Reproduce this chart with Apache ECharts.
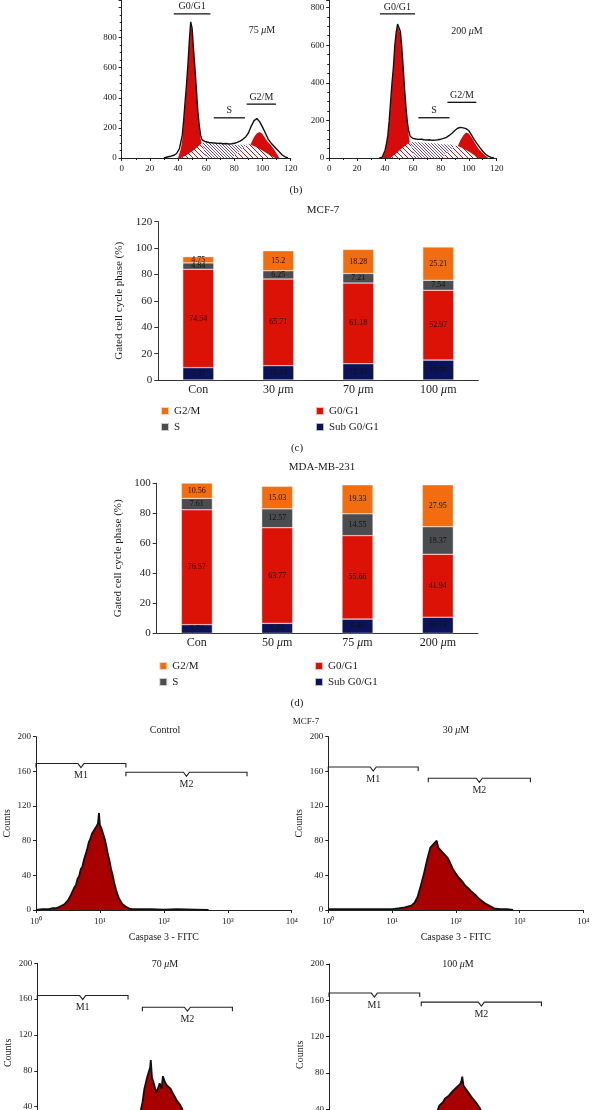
<!DOCTYPE html>
<html><head><meta charset="utf-8">
<script src="https://cdn.jsdelivr.net/npm/echarts@6/dist/echarts.min.js"></script>
<style>html,body{margin:0;padding:0;background:#fff}#c{width:592px;height:1110px}</style>
</head><body><div id="c"></div>
<script>
// ---------- DATA ----------
// (b) DNA content histograms: [channel, count]
const b75Outline = [[30,0],[33,8],[35,12],[37,18],[39,30],[41,62],[43,150],[44,250],[45,372],[46,485],[47,618],[48,775],[49,905],[50,862],[51,722],[52,598],[53,462],[54,318],[55,222],[56,152],[57,122],[58,112],[59,110],[60,106],[62,103],[64,101],[66,100],[68,97],[70,98],[72,95],[74,96],[76,93],[78,95],[80,98],[82,104],[84,112],[86,124],[88,140],[90,166],[92,212],[94,248],[95,258],[96,262],[97,256],[98,240],[100,205],[102,166],[104,126],[106,100],[108,80],[110,60],[112,40],[114,20],[116,8],[118,0]];
const b75G1 = [[40,0],[42,60],[43,120],[44,230],[45,350],[46,470],[47,610],[48,770],[49,895],[50,850],[51,710],[52,585],[53,445],[54,300],[55,200],[56,130],[57,90],[58,40],[59,0]];
const b75G2 = [[86,0],[88,30],[90,60],[92,100],[94,140],[96,165],[98,172],[100,160],[102,130],[104,105],[106,85],[108,60],[110,30],[112,0]];
const b75S = [[57,100],[60,100],[65,98],[70,95],[75,92],[80,88],[85,88],[88,90],[91,85],[92,0]];
const b75HatchL = [[42,0],[46,20],[50,45],[54,75],[57,100],[60,0]];
const b75HatchR = [[78,0],[82,30],[86,65],[90,95],[95,75],[100,50],[105,20],[109,0]];
const b75Markers = [[37,63,958,'G0/G1'],[65.4,87.5,267,'S'],[88.7,109.6,358,'G2/M']];

const b200Outline = [[36,0],[38,5],[40,40],[41,75],[42,120],[43,200],[44,300],[45,400],[46,482],[47,598],[48,668],[49,712],[50,720],[51,672],[52,590],[53,482],[54,368],[55,270],[56,190],[57,142],[58,116],[59,108],[60,104],[62,101],[64,99],[66,100],[68,97],[70,96],[72,97],[74,94],[76,95],[78,97],[80,100],[82,104],[84,110],[86,120],[88,132],[90,146],[92,158],[93,166],[94,163],[95,168],[96,160],[97,163],[98,156],[100,146],[102,122],[104,96],[106,75],[108,55],[110,36],[112,20],[114,10],[116,3],[118,0]];
const b200G1 = [[38,0],[40,35],[42,110],[43,190],[44,290],[45,390],[46,470],[47,590],[48,660],[49,705],[50,712],[51,660],[52,580],[53,470],[54,360],[55,260],[56,180],[57,120],[58,70],[59,30],[60,0]];
const b200G2 = [[88,0],[90,30],[92,60],[94,95],[96,120],[98,135],[100,130],[102,110],[104,85],[106,60],[108,40],[110,25],[112,12],[114,0]];
const b200S = [[58,85],[62,85],[66,83],[70,80],[75,78],[80,75],[85,72],[89,70],[90,0]];
const b200HatchL = [[44,0],[48,25],[52,50],[56,75],[58,85],[61,0]];
const b200HatchR = [[80,0],[84,25],[88,50],[91,68],[95,55],[100,35],[104,15],[106,0]];
const b200Markers = [[36.3,61.5,766,'G0/G1'],[63.9,86.2,214,'S'],[84.7,105.4,296,'G2/M']];

// (c) MCF-7 cell cycle (%)
const mcfCats = ['Con','30 μm','70 μm','100 μm'];
const mcfSub  = [9.37,10.84,12.33,15.08];
const mcfG0G1 = [74.54,65.71,61.18,52.97];
const mcfS    = [4.84,6.25,7.21,7.54];
const mcfG2M  = [4.75,15.2,18.28,25.21];
// (d) MDA-MB-231 cell cycle (%)
const mdaCats = ['Con','50 μm','75 μm','200 μm'];
const mdaSub  = [5.76,6.63,9.46,10.74];
const mdaG0G1 = [76.57,63.77,55.66,41.94];
const mdaS    = [7.61,12.57,14.55,18.37];
const mdaG2M  = [10.56,15.03,19.33,27.95];

// (e) Caspase 3 - FITC histograms: log10 intensity and counts
const ctrlLog = [0.0,0.1,0.2,0.25,0.3,0.35,0.4,0.45,0.5,0.525,0.55,0.575,0.6,0.625,0.65,0.675,0.7,0.725,0.75,0.775,0.8,0.825,0.85,0.875,0.9,0.925,0.95,0.97,0.985,1.0,1.02,1.05,1.075,1.1,1.125,1.15,1.175,1.2,1.225,1.25,1.275,1.3,1.325,1.35,1.4,1.45,1.5,1.6,1.8,2.0,2.2,2.5,2.7];
const ctrlCount = [0,1,1,2,2,3,5,7,11,13,18,20,26,29,36,39,47,50,58,64,70,78,82,88,90,94,97,100,112,98,95,88,82,74,64,57,47,40,31,24,18,13,10,7,4,2,1,1,1,0.5,1,0.5,0];
const m30Log = [0,0.2,0.4,0.6,0.8,1.0,1.1,1.2,1.3,1.35,1.4,1.45,1.5,1.525,1.55,1.575,1.6,1.625,1.65,1.675,1.7,1.725,1.75,1.775,1.8,1.825,1.85,1.875,1.9,1.925,1.95,1.975,2.0,2.05,2.1,2.15,2.2,2.25,2.3,2.35,2.4,2.45,2.5,2.55,2.6,2.7,2.8,2.9];
const m30Count = [1,1,1,1,1,1,2,3,5,8,15,28,42,50,58,65,72,70,76,74,80,72,74,68,70,64,66,60,56,52,48,46,42,37,33,28,25,21,18,14,11,8,6,4,2,1,1,0];
const m70Log = [0,0.5,1.0,1.3,1.45,1.55,1.6,1.65,1.68,1.7,1.72,1.75,1.77,1.78,1.8,1.82,1.85,1.87,1.9,1.92,1.95,1.97,2.0,2.03,2.06,2.09,2.12,2.15,2.18,2.21,2.24,2.27,2.3,2.35,2.4,2.5,2.6,2.7,2.8,3.0];
const m70Count = [1,1,1,2,5,15,28,45,60,66,72,70,84,92,72,68,60,56,62,66,60,74,68,64,66,60,56,52,48,45,42,38,32,26,20,12,6,3,1,0];
const m100Log = [0,0.5,1.0,1.3,1.5,1.6,1.65,1.7,1.73,1.76,1.79,1.82,1.85,1.88,1.91,1.94,1.97,2.0,2.03,2.06,2.08,2.09,2.11,2.14,2.17,2.2,2.23,2.26,2.3,2.33,2.36,2.4,2.45,2.5,2.6,2.7,2.8,3.0,3.2];
const m100Count = [1,1,1,2,6,15,25,38,44,46,48,52,50,55,57,60,58,64,62,68,72,76,66,64,60,58,54,52,48,45,42,36,28,20,10,5,2,1,0];
const flowTicks = ['10⁰','10¹','10²','10³','10⁴'];
// gates: [start, end, height, label]
const ctrlGates = [[1,25.5,169,'M1'],[25.5,2000,159,'M2']];
const m30Gates  = [[1,25.7,165,'M1'],[37,1480,152,'M2']];
const m70Gates  = [[1,26.5,164,'M1'],[44.5,1150,151,'M2']];
const m100Gates = [[1,26.5,168,'M1'],[28,2150,158,'M2']];

// ---------- STYLE ----------
const FONT = 'Liberation Serif';
const INK = '#1a1a1a';
const C_G2M = '#f26d10', C_S = '#4b4c4f', C_G1 = '#dc1206', C_SUB = '#0b145a';
const FLOW_RED = '#a80000';

function hatch(colors, size) {
  const c = document.createElement('canvas');
  c.width = size; c.height = size;
  const g = c.getContext('2d');
  g.fillStyle = '#fff'; g.fillRect(0, 0, size, size);
  g.lineWidth = 1;
  colors.forEach((col, k) => {
    const off = k * size / colors.length;
    g.strokeStyle = col;
    g.beginPath();
    for (let d = -size; d <= size; d += size) {
      g.moveTo(off + d - 1, -1); g.lineTo(off + d + size + 1, size + 1);
    }
    g.stroke();
  });
  return c;
}
const redHatch = { image: hatch(['#d01010'], 5), repeat: 'repeat' };
const blueHatch = { image: hatch(['#3c4aa0', '#c05070'], 6), repeat: 'repeat' };

function richText(size) {
  return { i: { fontStyle: 'italic', fontFamily: FONT, fontSize: size, color: INK, fill: INK } };
}
const muFmt = v => String(v).replace('μ', '{i|μ}');

const grids = [
  { left: 121.7, top: 0, width: 169, height: 158 },
  { left: 329.2, top: 0, width: 167.5, height: 158 },
  { left: 158.3, top: 221.7, width: 320, height: 158.3 },
  { left: 156.7, top: 483.3, width: 321.3, height: 150 },
  { left: 36, top: 736.7, width: 255.7, height: 173.3 },
  { left: 328.3, top: 736.7, width: 255, height: 173.3 },
  { left: 37.3, top: 963.3, width: 255, height: 179.2 },
  { left: 329, top: 964, width: 255, height: 181.6 }
].map(g => Object.assign({ containLabel: false, outerBoundsMode: 'none' }, g));

const axLine = { show: true, lineStyle: { color: '#222', width: 1 } };
const topX = gi => ({ gridIndex: gi, type: 'value', min: 0, max: 120, interval: 20,
  axisLine: axLine, axisTick: { show: true, length: 3, lineStyle: { color: '#222' } },
  minorTick: { show: true, splitNumber: 2, length: 2, lineStyle: { color: '#222' } },
  splitLine: { show: false }, axisLabel: { fontFamily: FONT, fontSize: 9, color: INK, margin: 6 } });
const topY = (gi, max) => ({ gridIndex: gi, type: 'value', min: 0, max: max, interval: 200,
  axisLine: axLine, axisTick: { show: true, length: 3, lineStyle: { color: '#222' } },
  minorTick: { show: true, splitNumber: 4, length: 2, lineStyle: { color: '#222' } },
  splitLine: { show: false },
  axisLabel: { fontFamily: FONT, fontSize: 9, color: INK, margin: 5, showMaxLabel: false,
    formatter: v => (v > 800 ? '' : String(v)) } });
const barX = (gi, cats) => ({ gridIndex: gi, type: 'category', data: cats,
  axisLine: { show: true, lineStyle: { color: '#333', width: 1 } }, axisTick: { show: false },
  axisLabel: { fontFamily: FONT, fontSize: 12, color: INK, margin: 4, formatter: muFmt, rich: richText(12) } });
const barY = (gi, max) => ({ gridIndex: gi, type: 'value', min: 0, max: max, interval: 20,
  name: 'Gated cell cycle phase (%)', nameLocation: 'middle', nameGap: 27, nameRotate: 90,
  nameTextStyle: { fontFamily: FONT, fontSize: 11, color: INK },
  axisLine: { show: true, lineStyle: { color: '#333', width: 1 } },
  axisTick: { show: true, length: 4, lineStyle: { color: '#333' } }, splitLine: { show: false },
  axisLabel: { fontFamily: FONT, fontSize: 11, color: INK, margin: 6 } });
const flowX = gi => ({ gridIndex: gi, type: 'log', logBase: 10, min: 1, max: 10000,
  name: 'Caspase 3 - FITC', nameLocation: 'middle', nameGap: 22,
  nameTextStyle: { fontFamily: FONT, fontSize: 10, color: INK },
  axisLine: axLine, axisTick: { show: true, length: 3, lineStyle: { color: '#222' } },
  minorTick: { show: false }, splitLine: { show: false }, minorSplitLine: { show: false },
  axisLabel: { fontFamily: FONT, fontSize: 9, color: INK, margin: 7,
    formatter: v => flowTicks[Math.round(Math.log10(v))] } });
const flowY = gi => ({ gridIndex: gi, type: 'value', min: 0, max: 200, interval: 40,
  name: 'Counts', nameLocation: 'middle', nameGap: 24, nameRotate: 90,
  nameTextStyle: { fontFamily: FONT, fontSize: 10, color: INK },
  axisLine: axLine, axisTick: { show: true, length: 3, lineStyle: { color: '#222' } },
  splitLine: { show: false }, axisLabel: { fontFamily: FONT, fontSize: 9, color: INK, margin: 5 } });

const series = [];
function area(name, data, gi, fill, z) {
  series.push({ type: 'line', name: name, data: data, xAxisIndex: gi, yAxisIndex: gi,
    symbol: 'none', showSymbol: false, silent: true, z: z,
    lineStyle: { width: 0, opacity: 0 }, areaStyle: { color: fill, opacity: 1 } });
}
function outline(name, data, gi, z, w) {
  series.push({ type: 'line', name: name, data: data, xAxisIndex: gi, yAxisIndex: gi,
    symbol: 'none', showSymbol: false, silent: true, z: z,
    lineStyle: { color: '#111', width: w } });
}
function phaseMarkers(name, markers, gi) {
  series.push({ type: 'custom', name: name, xAxisIndex: gi, yAxisIndex: gi, silent: true, z: 20,
    data: markers.map(m => [m[0], m[1], m[2]]), encode: { x: [0, 1], y: 2 },
    renderItem: (params, api) => {
      const m = markers[params.dataIndex];
      const a = api.coord([m[0], m[2]]), b = api.coord([m[1], m[2]]);
      return { type: 'group', children: [
        { type: 'line', shape: { x1: a[0], y1: a[1], x2: b[0], y2: b[1] }, style: { stroke: '#111', lineWidth: 1.3 } },
        { type: 'text', style: { text: m[3], x: (a[0] + b[0]) / 2, y: a[1] - 2, align: 'center', verticalAlign: 'bottom',
          fontFamily: FONT, fontSize: 10, fill: INK } } ] };
    } });
}
function gates(name, gs, gi) {
  series.push({ type: 'custom', name: name, xAxisIndex: gi, yAxisIndex: gi, silent: true, z: 20,
    data: gs.map(m => [m[0], m[1], m[2]]), encode: { x: [0, 1], y: 2 },
    renderItem: (params, api) => {
      const m = gs[params.dataIndex];
      const a = api.coord([m[0], m[2]]), b = api.coord([m[1], m[2]]);
      const mid = (a[0] + b[0]) / 2, y = a[1];
      return { type: 'group', children: [
        { type: 'polyline', shape: { points: [[a[0], y + 4], [a[0], y], [mid - 3, y], [mid, y + 4], [mid + 3, y], [b[0], y], [b[0], y + 4]] },
          style: { stroke: '#222', lineWidth: 1.1, fill: null } },
        { type: 'text', style: { text: m[3], x: mid, y: y + 12, align: 'center', verticalAlign: 'middle',
          fontFamily: FONT, fontSize: 10, fill: INK } } ] };
    } });
}

// (b) panels
[[0, b75S, b75G1, b75G2, b75HatchL, b75HatchR, b75Outline, b75Markers],
 [1, b200S, b200G1, b200G2, b200HatchL, b200HatchR, b200Outline, b200Markers]].forEach(p => {
  const gi = p[0];
  area('S-' + gi, p[1], gi, blueHatch, 2);
  area('G1peak-' + gi, p[2], gi, '#d80b0b', 3);
  area('G2peak-' + gi, p[3], gi, '#d80b0b', 3);
  area('hatchL-' + gi, p[4], gi, redHatch, 4);
  area('hatchR-' + gi, p[5], gi, redHatch, 4);
  outline('total-' + gi, p[6], gi, 6, 1.4);
  phaseMarkers('markers-' + gi, p[7], gi);
});

// (c),(d) stacked bars
function bar(name, data, color, gi, stack) {
  series.push({ type: 'bar', name: name, data: data, xAxisIndex: gi, yAxisIndex: gi, stack: stack,
    barWidth: 31, itemStyle: { color: color, borderColor: 'rgba(255,255,255,0.7)', borderWidth: 0.5 },
    label: { show: true, position: 'inside', fontFamily: FONT, fontSize: 8, color: '#111' },
    emphasis: { disabled: true } });
}
bar('Sub G0/G1', mcfSub, C_SUB, 2, 'c'); bar('G0/G1', mcfG0G1, C_G1, 2, 'c');
bar('S', mcfS, C_S, 2, 'c'); bar('G2/M', mcfG2M, C_G2M, 2, 'c');
bar('Sub G0/G1', mdaSub, C_SUB, 3, 'd'); bar('G0/G1', mdaG0G1, C_G1, 3, 'd');
bar('S', mdaS, C_S, 3, 'd'); bar('G2/M', mdaG2M, C_G2M, 3, 'd');

// (e) flow histograms
[[4, ctrlLog, ctrlCount, ctrlGates], [5, m30Log, m30Count, m30Gates],
 [6, m70Log, m70Count, m70Gates], [7, m100Log, m100Count, m100Gates]].forEach(p => {
  const gi = p[0];
  const d = p[1].map((l, i) => [Math.pow(10, l), p[2][i]]);
  series.push({ type: 'line', name: 'flow-' + gi, data: d, xAxisIndex: gi, yAxisIndex: gi,
    symbol: 'none', showSymbol: false, silent: true, z: 5,
    lineStyle: { color: '#111', width: 1.8 }, areaStyle: { color: FLOW_RED, opacity: 1 } });
  gates('gates-' + gi, p[3], gi);
});

function legend(left, top, names) {
  return { left: left, top: top, orient: 'vertical', data: names, icon: 'rect', itemWidth: 8, itemHeight: 8,
    itemGap: 5, selectedMode: false, padding: 0,
    textStyle: { fontFamily: FONT, fontSize: 11, color: INK, lineHeight: 11 } };
}

function gtext(x, y, text, size) {
  return { type: 'text', x: x, y: y, silent: true,
    style: { text: muFmt(text), fontFamily: FONT, fontSize: size, fill: INK, align: 'center', verticalAlign: 'middle', rich: richText(size) } };
}

const chart = echarts.init(document.getElementById('c'), null, { renderer: 'canvas' });
chart.setOption({
  animation: false,
  backgroundColor: '#fff',
  textStyle: { fontFamily: FONT },
  grid: grids,
  xAxis: [topX(0), topX(1), barX(2, mcfCats), barX(3, mdaCats), flowX(4), flowX(5), flowX(6), flowX(7)],
  yAxis: [topY(0, 1050), topY(1, 840), barY(2, 120), barY(3, 100), flowY(4), flowY(5), flowY(6), flowY(7)],
  legend: [legend(160, 405.5, ['G2/M', 'S']), legend(315, 405.5, ['G0/G1', 'Sub G0/G1']),
           legend(158.3, 660.5, ['G2/M', 'S']), legend(314, 660.5, ['G0/G1', 'Sub G0/G1'])],
  series: series,
  graphic: [
    gtext(262, 30, '75 μM', 10), gtext(467, 31, '200 μM', 10),
    gtext(296, 190, '(b)', 11),
    gtext(323, 210, 'MCF-7', 11), gtext(297, 448, '(c)', 11),
    gtext(322, 467, 'MDA-MB-231', 11), gtext(297, 703, '(d)', 11),
    gtext(306, 722, 'MCF-7', 9),
    gtext(165, 730, 'Control', 10), gtext(456, 730, '30 μM', 10),
    gtext(165, 964, '70 μM', 10), gtext(458, 964, '100 μM', 10)
  ]
});
</script></body></html>
